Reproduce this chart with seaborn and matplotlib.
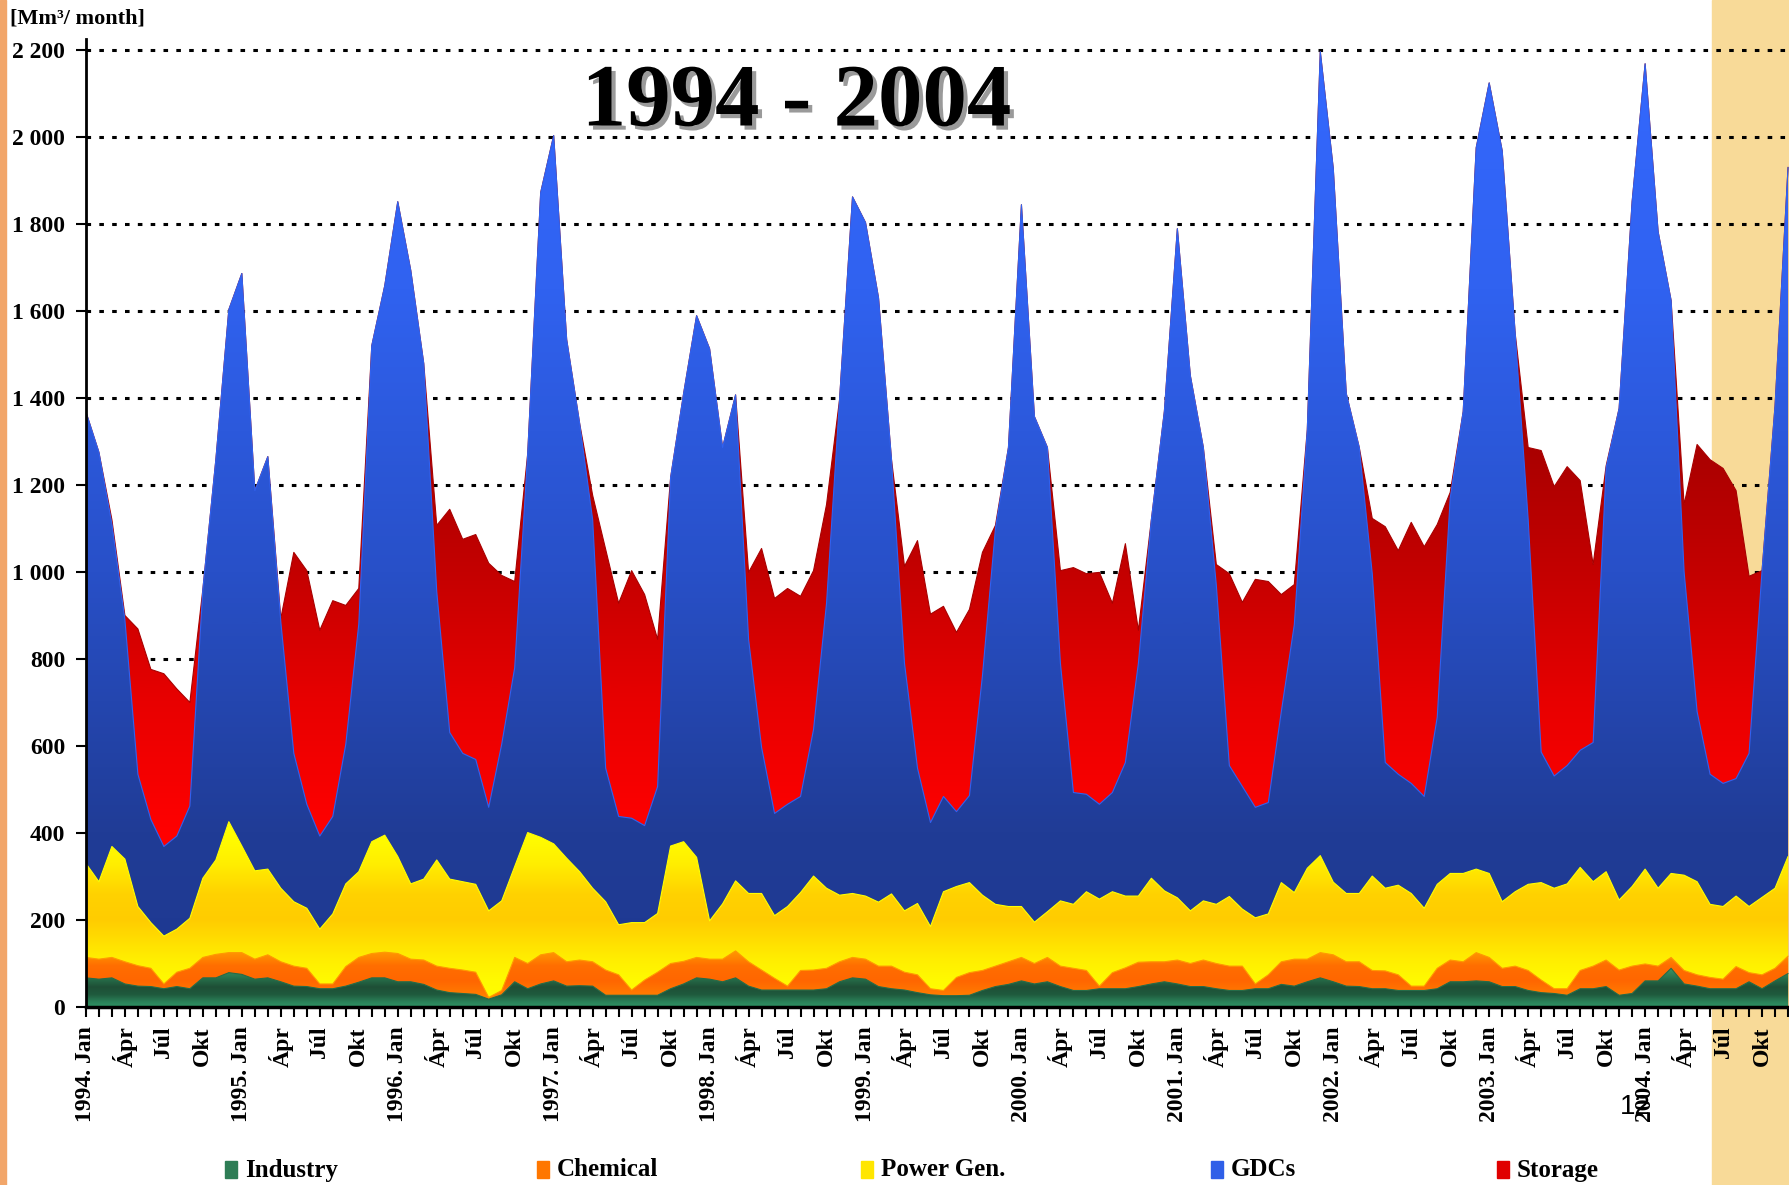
import numpy as np
import pandas as pd
import seaborn as sns
import matplotlib
matplotlib.use('Agg')
import matplotlib.pyplot as plt
import matplotlib.patheffects as pe
from matplotlib.colors import LinearSegmentedColormap
from matplotlib.patches import Rectangle

# stacked levels, monthly 1994 Jan .. 2004 Dec
industry_top = [67, 64, 67, 53, 48, 47, 42, 47, 42, 67, 67, 79,
                75, 64, 67, 58, 48, 47, 42, 42, 48, 57, 67, 67,
                58, 58, 52, 39, 33, 31, 29, 18, 28, 58, 42, 53,
                60, 48, 49, 48, 27, 27, 27, 27, 27, 42, 53, 67,
                64, 58, 67, 48, 39, 39, 39, 39, 39, 42, 58, 67,
                64, 47, 42, 39, 33, 28, 26, 26, 27, 38, 47, 52,
                60, 53, 58, 47, 38, 38, 42, 42, 42, 47, 53, 58,
                53, 47, 47, 42, 38, 38, 42, 42, 52, 48, 58, 67,
                58, 48, 47, 42, 42, 38, 38, 38, 42, 58, 58, 60,
                58, 47, 47, 38, 33, 31, 27, 42, 42, 47, 27, 31,
                60, 60, 89, 53, 48, 42, 42, 42, 58, 42, 60, 77]
chemical_top = [114, 110, 114, 104, 95, 89, 53, 80, 89, 114, 121, 125,
                125, 110, 120, 104, 94, 89, 53, 53, 93, 114, 123, 126,
                123, 110, 108, 94, 89, 85, 80, 22, 38, 114, 100, 120,
                125, 104, 108, 104, 85, 74, 39, 62, 80, 100, 105, 114,
                110, 110, 129, 104, 85, 66, 48, 84, 85, 89, 104, 114,
                110, 94, 94, 80, 74, 42, 38, 68, 79, 84, 94, 104,
                114, 100, 114, 94, 89, 84, 48, 79, 90, 103, 104, 104,
                108, 100, 108, 100, 94, 94, 53, 74, 104, 110, 110, 125,
                120, 104, 104, 84, 83, 74, 48, 48, 89, 108, 104, 125,
                114, 89, 94, 84, 62, 42, 42, 84, 94, 108, 85, 94,
                99, 94, 114, 84, 74, 68, 64, 93, 79, 74, 89, 117]
power_top = [330, 288, 369, 340, 231, 194, 163, 179, 204, 296, 338, 426,
             370, 313, 317, 273, 242, 227, 179, 214, 283, 311, 380, 395,
             346, 283, 294, 338, 294, 288, 282, 221, 244, 323, 401, 390,
             375, 342, 311, 273, 242, 189, 194, 194, 215, 370, 380, 344,
             198, 237, 290, 261, 261, 210, 231, 263, 301, 273, 257, 261,
             255, 241, 260, 221, 238, 185, 265, 277, 286, 257, 236, 231,
             231, 195, 219, 244, 236, 265, 248, 265, 255, 255, 296, 267,
             251, 221, 244, 236, 254, 225, 205, 214, 286, 263, 319, 348,
             287, 261, 261, 301, 273, 280, 261, 227, 282, 307, 307, 317,
             307, 242, 265, 282, 286, 273, 283, 321, 288, 311, 246, 277,
             317, 273, 307, 303, 288, 236, 231, 255, 231, 252, 273, 346]
gdc_top = [1368, 1275, 1110, 890, 535, 431, 369, 393, 462, 960, 1258, 1603,
           1686, 1187, 1265, 885, 583, 466, 393, 438, 604, 880, 1520, 1658,
           1851, 1693, 1479, 955, 631, 583, 569, 459, 604, 780, 1272, 1872,
           2003, 1534, 1341, 1120, 549, 438, 434, 417, 507, 1217, 1410, 1589,
           1513, 1286, 1407, 845, 597, 445, 466, 484, 638, 928, 1396, 1862,
           1803, 1630, 1258, 790, 549, 424, 484, 449, 486, 762, 1100, 1286,
           1844, 1357, 1286, 790, 493, 489, 466, 493, 562, 790, 1120, 1369,
           1789, 1451, 1286, 969, 555, 507, 459, 470, 679, 879, 1327, 2196,
           1927, 1410, 1286, 996, 562, 535, 514, 484, 666, 1170, 1369, 1975,
           2124, 1968, 1548, 1120, 586, 531, 555, 590, 608, 1240, 1376, 1851,
           2168, 1782, 1624, 1000, 679, 535, 514, 525, 583, 1003, 1382, 1930]
storage_top = [1368, 1275, 1120, 900, 869, 776, 766, 731, 700, 960, 1258, 1603,
               1686, 1187, 1265, 893, 1045, 1003, 866, 934, 923, 962, 1520, 1658,
               1851, 1693, 1479, 1107, 1144, 1075, 1086, 1020, 992, 978, 1272, 1872,
               2003, 1534, 1341, 1176, 1052, 928, 1003, 948, 845, 1217, 1410, 1589,
               1513, 1286, 1407, 999, 1054, 939, 962, 944, 1003, 1155, 1396, 1862,
               1803, 1630, 1258, 1013, 1072, 903, 921, 861, 914, 1045, 1107, 1286,
               1844, 1357, 1286, 1003, 1010, 996, 999, 928, 1065, 866, 1120, 1369,
               1789, 1451, 1286, 1017, 996, 930, 983, 978, 948, 971, 1327, 2196,
               1927, 1410, 1286, 1123, 1104, 1049, 1114, 1058, 1109, 1183, 1369, 1975,
               2124, 1968, 1548, 1286, 1279, 1196, 1242, 1210, 1017, 1244, 1376, 1851,
               2168, 1782, 1624, 1155, 1293, 1258, 1238, 1187, 990, 1003, 1382, 1930]

years = list(range(1994, 2005))
quarter_names = ['Jan', 'Ápr', 'Júl', 'Okt']
series_names = ['Industry', 'Chemical', 'Power Gen.', 'GDCs', 'Storage']
y_ticks = list(range(0, 2201, 200))

df = pd.DataFrame({'month': np.arange(len(storage_top)),
                   'Industry': industry_top, 'Chemical': chemical_top,
                   'Power Gen.': power_top, 'GDCs': gdc_top, 'Storage': storage_top})

# gradient stops (value, colour) per layer, and the legend swatch colour
styles = {
    'Storage': ([(0, '#FF0000'), (400, '#FF0000'), (700, '#E80000'), (1000, '#C40000'),
                 (1300, '#A80000'), (2200, '#A00000')], '#E00000'),
    'GDCs': ([(0, '#1E3890'), (400, '#203C96'), (1000, '#2850C8'), (1650, '#3062F0'),
              (2200, '#3468FF')], '#2F5FE8'),
    'Power Gen.': ([(0, '#FFFF00'), (60, '#FFFA00'), (110, '#FFEE00'), (200, '#FFCC00'),
                    (260, '#FFD200'), (330, '#FFEE00'), (400, '#FFFF00'), (450, '#FFFF00')], '#FFE600'),
    'Chemical': ([(0, '#FFA000'), (30, '#FF7A00'), (60, '#FF6600'), (95, '#FF6E00'),
                  (115, '#FF8800'), (130, '#FF9900'), (140, '#FF9900')], '#FF7700'),
    'Industry': ([(0, '#2E9464'), (12, '#2A8058'), (28, '#1F5A3D'), (45, '#1E4F36'),
                  (62, '#256B48'), (90, '#3A9A6A')], '#2E7D55'),
}

sns.set_theme(style='white')
plt.rcParams['font.family'] = ['Liberation Serif', 'DejaVu Serif']
plt.rcParams['text.color'] = 'black'

fig = plt.figure(figsize=(17.9, 11.85), dpi=100)
fig.patch.set_facecolor('white')
fig.add_artist(Rectangle((1712 / 1790, 0), 1, 1, transform=fig.transFigure,
                         color='#F8DA98', zorder=0))
fig.add_artist(Rectangle((0, 0), 0.0035, 1, transform=fig.transFigure,
                         color='#F2A66A', zorder=0))

ax = fig.add_axes([0.048, 0.1502, 0.952, 0.8169])
ax.set_facecolor('none')
x = df['month'].values

# back to front, each layer filled from zero so no seams show
for z, name in enumerate(['Storage', 'GDCs', 'Power Gen.', 'Chemical', 'Industry']):
    stops, edge = styles[name]
    top = df[name].values
    vmax = stops[-1][0]
    cmap = LinearSegmentedColormap.from_list(name, [(v / vmax, c) for v, c in stops])
    coll = ax.fill_between(x, 0, top, facecolor='none', edgecolor='none', zorder=1 + z * 0.1)
    img = ax.imshow(np.linspace(0, 1, 512).reshape(-1, 1), cmap=cmap, origin='lower',
                    extent=(x[0], x[-1], 0, vmax), aspect='auto', interpolation='bilinear',
                    zorder=1 + z * 0.1)
    img.set_clip_path(coll.get_paths()[0], ax.transData)
    sns.lineplot(data=df, x='month', y=name, color=stops[-2][1], lw=0.8, ax=ax,
                 zorder=1.05 + z * 0.1)

ax.set_xlim(0, x[-1] + 0.15)
ax.set_ylim(0, 2225)
ax.set_xlabel('')
ax.set_ylabel('')

ax.set_axisbelow(True)
ax.yaxis.grid(True, color='black', linestyle=(0, (1.5, 2.7)), lw=2.2)
ax.xaxis.grid(False)

ax.set_yticks(y_ticks)
ax.set_yticklabels([f'{v:,}'.replace(',', ' ') for v in y_ticks],
                   fontsize=17, fontweight='bold')
x_labels = []
for yr in years:
    for m in range(12):
        if m == 0:
            x_labels.append(f'{yr}. Jan')
        elif m % 3 == 0:
            x_labels.append(quarter_names[m // 3])
        else:
            x_labels.append('')
ax.set_xticks(x)
ax.set_xticklabels(x_labels, rotation=90, fontsize=17, fontweight='bold')
ax.tick_params(axis='x', bottom=True, direction='out', length=7, width=1.5,
               color='black', pad=7, labelcolor='black')
ax.tick_params(axis='y', left=True, direction='out', length=7, width=1.5,
               color='black', pad=8, labelcolor='black')

for side in ['top', 'right']:
    ax.spines[side].set_visible(False)
ax.spines['left'].set_color('black')
ax.spines['left'].set_linewidth(2)
ax.spines['bottom'].set_color('black')
ax.spines['bottom'].set_linewidth(2.5)

fig.text(10 / 1790, 1 - 19 / 1185, '[Mm³/ month]', fontsize=16, fontweight='bold',
         color='black', ha='left', va='center')
fig.text(0.445, 1 - 104 / 1185, '1994 - 2004', fontsize=64, fontweight='bold',
         color='black', ha='center', va='center',
         path_effects=[pe.withSimplePatchShadow(offset=(3, -3), shadow_rgbFace='#9A9A9A', alpha=1)])
fig.text(1635 / 1790, 1 - 1107 / 1185, '12', fontsize=20, color='black',
         family=['Liberation Sans Narrow', 'Liberation Sans', 'DejaVu Sans'],
         ha='center', va='center')

# legend row along the bottom
legend_x = [225, 537, 861, 1211, 1497]
for px, name in zip(legend_x, series_names):
    fig.add_artist(Rectangle((px / 1790, 1 - 1178 / 1185), 12 / 1790, 17 / 1185,
                             transform=fig.transFigure, color=styles[name][1]))
    fig.text((px + 20) / 1790, 1 - 1170 / 1185, name, fontsize=18, fontweight='bold',
             color='black', ha='left', va='center')

fig.savefig('out.png', dpi=100, facecolor='white')
